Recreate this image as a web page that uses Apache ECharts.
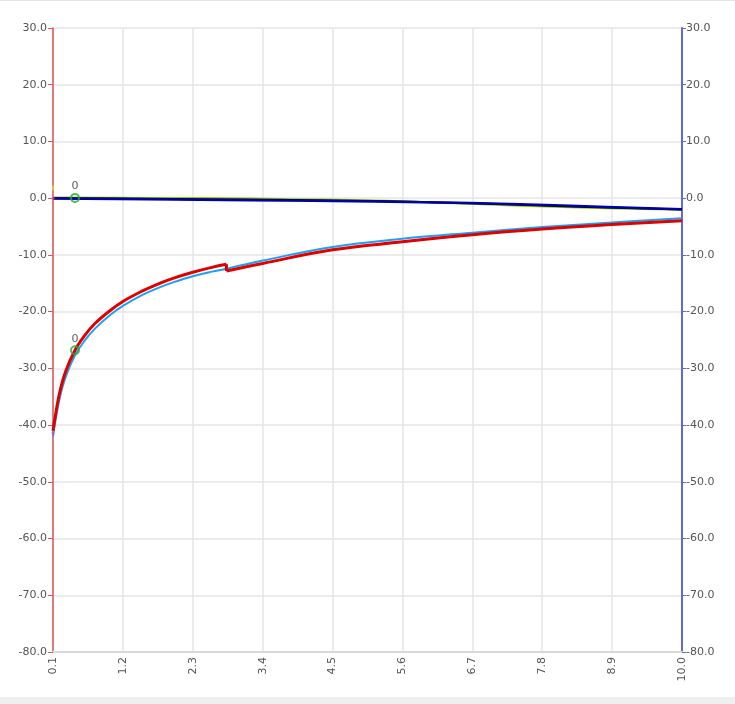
<!DOCTYPE html>
<html>
<head>
<meta charset="utf-8">
<script src="https://cdn.jsdelivr.net/npm/echarts@6/dist/echarts.min.js"></script>
<style>html,body{margin:0;padding:0;background:#fff}#c{width:735px;height:704px}</style>
</head>
<body>
<div id="c"></div>
<script>
// ---- data ----
const X_MIN = 0.1, X_MAX = 10.0, X_STEP = 1.1;
const Y_MIN = -80, Y_MAX = 30, Y_STEP = 10;

// red curve (with a step at x = 2.83)
const redX1 = [0.1, 0.15, 0.21, 0.3, 0.446, 0.6, 0.76, 1.0, 1.2, 1.5, 1.76, 2.0, 2.3, 2.6, 2.83];
const redY1 = [-41, -37.5, -34.0, -30.5, -26.8, -24.2, -22.1, -19.8, -18.2, -16.4, -15.1, -14.1, -13.06, -12.2, -11.66];
const redX2 = [2.83, 3.4, 4.5, 5.6, 6.7, 7.8, 8.9, 10.0];
const redY2 = [-12.84, -11.5, -9.1, -7.7, -6.45, -5.45, -4.65, -3.97];

// light blue curve
const blueX = [0.1, 0.15, 0.21, 0.3, 0.446, 0.6, 0.76, 1.0, 1.2, 1.5, 1.76, 2.0, 2.3, 2.6, 2.83, 3.4, 4.5, 5.6, 6.7, 7.8, 8.9, 10.0];
const blueY = [-42, -38.5, -35.0, -31.5, -27.7, -25.1, -23.0, -20.6, -19.0, -17.1, -15.8, -14.8, -13.75, -12.95, -12.45, -11.0, -8.6, -7.15, -6.08, -5.1, -4.28, -3.55];

// near-zero curves
const zeroX = [0.1, 1.6, 3.2, 5.17, 6.66, 8.24, 10.0];
const greenY = [0.1, 0.05, -0.05, -0.4, -1.0, -1.6, -2.05];
const navyY = [-0.05, -0.2, -0.35, -0.6, -0.85, -1.35, -1.95];
const blackY = [0, -0.1, -0.25, -0.5, -0.9, -1.45, -2.0];

// markers
const markerX = [0.446, 0.446];
const markerY = [0.05, -26.8];
const markerLabels = ['0', '0'];
const pinkX = [0.1, 0.1];
const pinkY = [0, -41.4];
const limeX = [0.1];
const limeY = [1.8];

// ---- helpers ----
const toData = (xs, ys) => xs.map((x, i) => [x - X_MIN, ys[i]]);

const chart = echarts.init(document.getElementById('c'), null, {renderer: 'canvas'});

const labelFont = {color: '#555', fontSize: 11, fontFamily: 'DejaVu Sans'};

const lineSeries = (name, data, color, width, z, smooth) => ({
  name, type: 'line', data,
  smooth: smooth === undefined ? 0.4 : smooth,
  showSymbol: false, symbol: 'none', z,
  lineStyle: {color, width}, itemStyle: {color},
  animation: false
});

chart.setOption({
  animation: false,
  backgroundColor: '#fff',
  grid: {left: 53, right: 53, top: 28, bottom: 52, containLabel: false},
  xAxis: {
    type: 'value', min: 0, max: X_MAX - X_MIN, interval: X_STEP,
    axisLine: {show: true, onZero: false, lineStyle: {color: '#d8d8d8', width: 2}},
    axisTick: {show: false},
    splitLine: {show: true, lineStyle: {color: '#e6e6e6', width: 1.5}},
    axisLabel: Object.assign({}, labelFont, {
      rotate: 90, margin: 5,
      formatter: v => (v + X_MIN).toFixed(1)
    })
  },
  yAxis: [
    {
      type: 'value', min: Y_MIN, max: Y_MAX, interval: Y_STEP, position: 'left',
      axisLine: {show: true, lineStyle: {color: '#e05555', width: 1.5}},
      axisTick: {show: true, length: 5, lineStyle: {color: '#e05555'}},
      splitLine: {show: true, lineStyle: {color: '#e6e6e6', width: 1.5}},
      axisLabel: Object.assign({}, labelFont, {margin: 6, formatter: v => v.toFixed(1)})
    },
    {
      type: 'value', min: Y_MIN, max: Y_MAX, interval: Y_STEP, position: 'right',
      axisLine: {show: true, lineStyle: {color: '#6666dd', width: 2}},
      axisTick: {show: true, length: 4, lineStyle: {color: '#6666dd'}},
      splitLine: {show: false},
      axisLabel: Object.assign({}, labelFont, {margin: 4, formatter: v => v.toFixed(1)})
    }
  ],
  graphic: [
    {type: 'rect', left: 0, top: 0, shape: {width: 735, height: 1}, style: {fill: '#e4e4e4'}, silent: true},
    {type: 'rect', left: 0, top: 697, shape: {width: 735, height: 7}, style: {fill: '#efefef'}, silent: true}
  ],
  series: [
    lineSeries('green', toData(zeroX, greenY), '#99cc00', 2, 3),
    lineSeries('black', toData(zeroX, blackY), '#000000', 2, 4),
    lineSeries('navy', toData(zeroX, navyY), '#0000a8', 2.5, 5),
    lineSeries('lightblue', toData(blueX, blueY), '#1ea0f0', 2, 6),
    lineSeries('red1', toData(redX1, redY1), '#dd0000', 3, 7),
    lineSeries('red2', toData(redX2, redY2), '#dd0000', 3, 7),
    lineSeries('redstep', toData([redX1[redX1.length - 1], redX2[0]], [redY1[redY1.length - 1], redY2[0]]), '#dd0000', 3, 7, false),
    {
      name: 'markers', type: 'scatter', z: 10,
      data: toData(markerX, markerY).map((d, i) => ({value: d, label: {formatter: markerLabels[i]}})),
      symbol: 'circle', symbolSize: 8,
      itemStyle: {color: 'rgba(255,255,255,0)', borderColor: '#22aa33', borderWidth: 2},
      label: Object.assign({}, labelFont, {show: true, position: 'top', distance: 1, color: '#333'})
    },
    {
      name: 'pink', type: 'scatter', z: 9, data: toData(pinkX, pinkY),
      symbol: 'circle', symbolSize: 3, itemStyle: {color: '#ee44aa'}
    },
    {
      name: 'lime', type: 'scatter', z: 9, data: toData(limeX, limeY),
      symbol: 'rect', symbolSize: [2, 5], itemStyle: {color: '#cccc33'}
    }
  ]
});
</script>
</body>
</html>
